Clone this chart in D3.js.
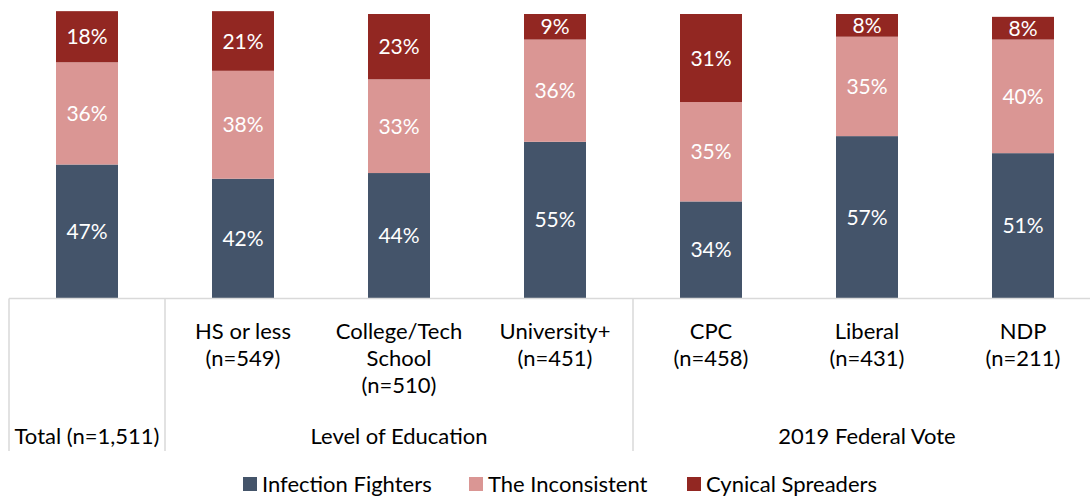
<!DOCTYPE html>
<html>
<head>
<meta charset="utf-8">
<script src="https://cdn.jsdelivr.net/npm/d3@7"></script>
<style>
  body { margin: 0; background: #fff; }
  text { font-family: Lato, "Open Sans", sans-serif; }
</style>
</head>
<body>
<div id="chart"></div>
<script>
const categories = ['Total', 'HS', 'College', 'University', 'CPC', 'Liberal', 'NDP']
const catLabels = [[], ['HS or less', '(n=549)'], ['College/Tech', 'School', '(n=510)'], ['University+', '(n=451)'],
  ['CPC', '(n=458)'], ['Liberal', '(n=431)'], ['NDP', '(n=211)']]
const groups = [
  { label: 'Total (n=1,511)', from: 0, to: 0 },
  { label: 'Level of Education', from: 1, to: 3 },
  { label: '2019 Federal Vote', from: 4, to: 6 }
]
const seriesNames = ['Infection Fighters', 'The Inconsistent', 'Cynical Spreaders']
const fighters = [47, 42, 44, 55, 34, 57, 51]
const inconsistent = [36, 38, 33, 36, 35, 35, 40]
const cynical = [18, 21, 23, 9, 31, 8, 8]

const colors = ['#44546a', '#da9694', '#922722']

let width = 1090, height = 497

let svg = d3.select('#chart').append('svg')
.attr('width', width)
.attr('height', height)

let rows = categories.map((c, i) => ({ cat: c, s0: fighters[i], s1: inconsistent[i], s2: cynical[i] }))
let stack = d3.stack().keys(['s0', 's1', 's2'])(rows)

let x = d3.scaleBand()
.domain(categories)
.range([9, 1101])
.paddingInner(0.6026)
.paddingOuter(0.3013)

let y = d3.scaleLinear()
.domain([0, 100])
.range([298, 14])

let layers = svg.append('g').selectAll('g')
.data(stack)
.enter()
.append('g')
.attr('fill', (d, i) => colors[i])

layers.selectAll('rect')
.data(d => d)
.enter()
.append('rect')
.attr('x', d => x(d.data.cat))
.attr('width', x.bandwidth())
.attr('y', d => y(d[1]))
.attr('height', d => y(d[0]) - y(d[1]))

layers.selectAll('text')
.data(d => d)
.enter()
.append('text')
.attr('x', d => x(d.data.cat) + x.bandwidth() / 2)
.attr('y', d => (y(d[0]) + y(d[1])) / 2)
.attr('dy', '0.36em')
.attr('text-anchor', 'middle')
.attr('fill', '#fff')
.style('font-size', '21px')
.text(d => (d[1] - d[0]) + '%')

// category axis with group boxes
let axisY = 298.5
let axis = svg.append('g')
.attr('stroke', '#d9d9d9')
.attr('stroke-width', 1.5)

axis.append('line')
.attr('x1', 9).attr('x2', 1101)
.attr('y1', axisY).attr('y2', axisY)

let step = x.step()
let seps = [0, 1, 4, 7].map(i => x.range()[0] + i * step)
axis.selectAll('.sep')
.data(seps)
.enter()
.append('line')
.attr('x1', d => d).attr('x2', d => d)
.attr('y1', axisY).attr('y2', 451)

let labels = svg.append('g')
.attr('fill', '#000')
.style('font-size', '22px')
.attr('text-anchor', 'middle')

labels.selectAll('text')
.data(categories)
.enter()
.append('text')
.attr('x', d => x(d) + x.bandwidth() / 2)
.attr('y', 331)
.each(function (d, i) {
  d3.select(this).selectAll('tspan')
  .data(catLabels[i])
  .enter()
  .append('tspan')
  .attr('x', x(d) + x.bandwidth() / 2)
  .attr('dy', (t, j) => j === 0 ? '0.36em' : 27)
  .text(t => t)
})

labels.selectAll('.grp')
.data(groups)
.enter()
.append('text')
.attr('class', 'grp')
.attr('x', d => (x.range()[0] + d.from * step + x.range()[0] + (d.to + 1) * step) / 2)
.attr('y', 436)
.attr('dy', '0.36em')
.text(d => d.label)

// legend
let legendX = [243, 469, 687]
let legend = svg.append('g').selectAll('g')
.data(seriesNames)
.enter()
.append('g')
.attr('transform', (d, i) => `translate(${legendX[i]},484)`)

legend.append('rect')
.attr('x', 0).attr('y', -7)
.attr('width', 14).attr('height', 14)
.attr('fill', (d, i) => colors[i])

legend.append('text')
.attr('x', 19)
.attr('dy', '0.36em')
.style('font-size', '22px')
.text(d => d)
</script>
</body>
</html>
